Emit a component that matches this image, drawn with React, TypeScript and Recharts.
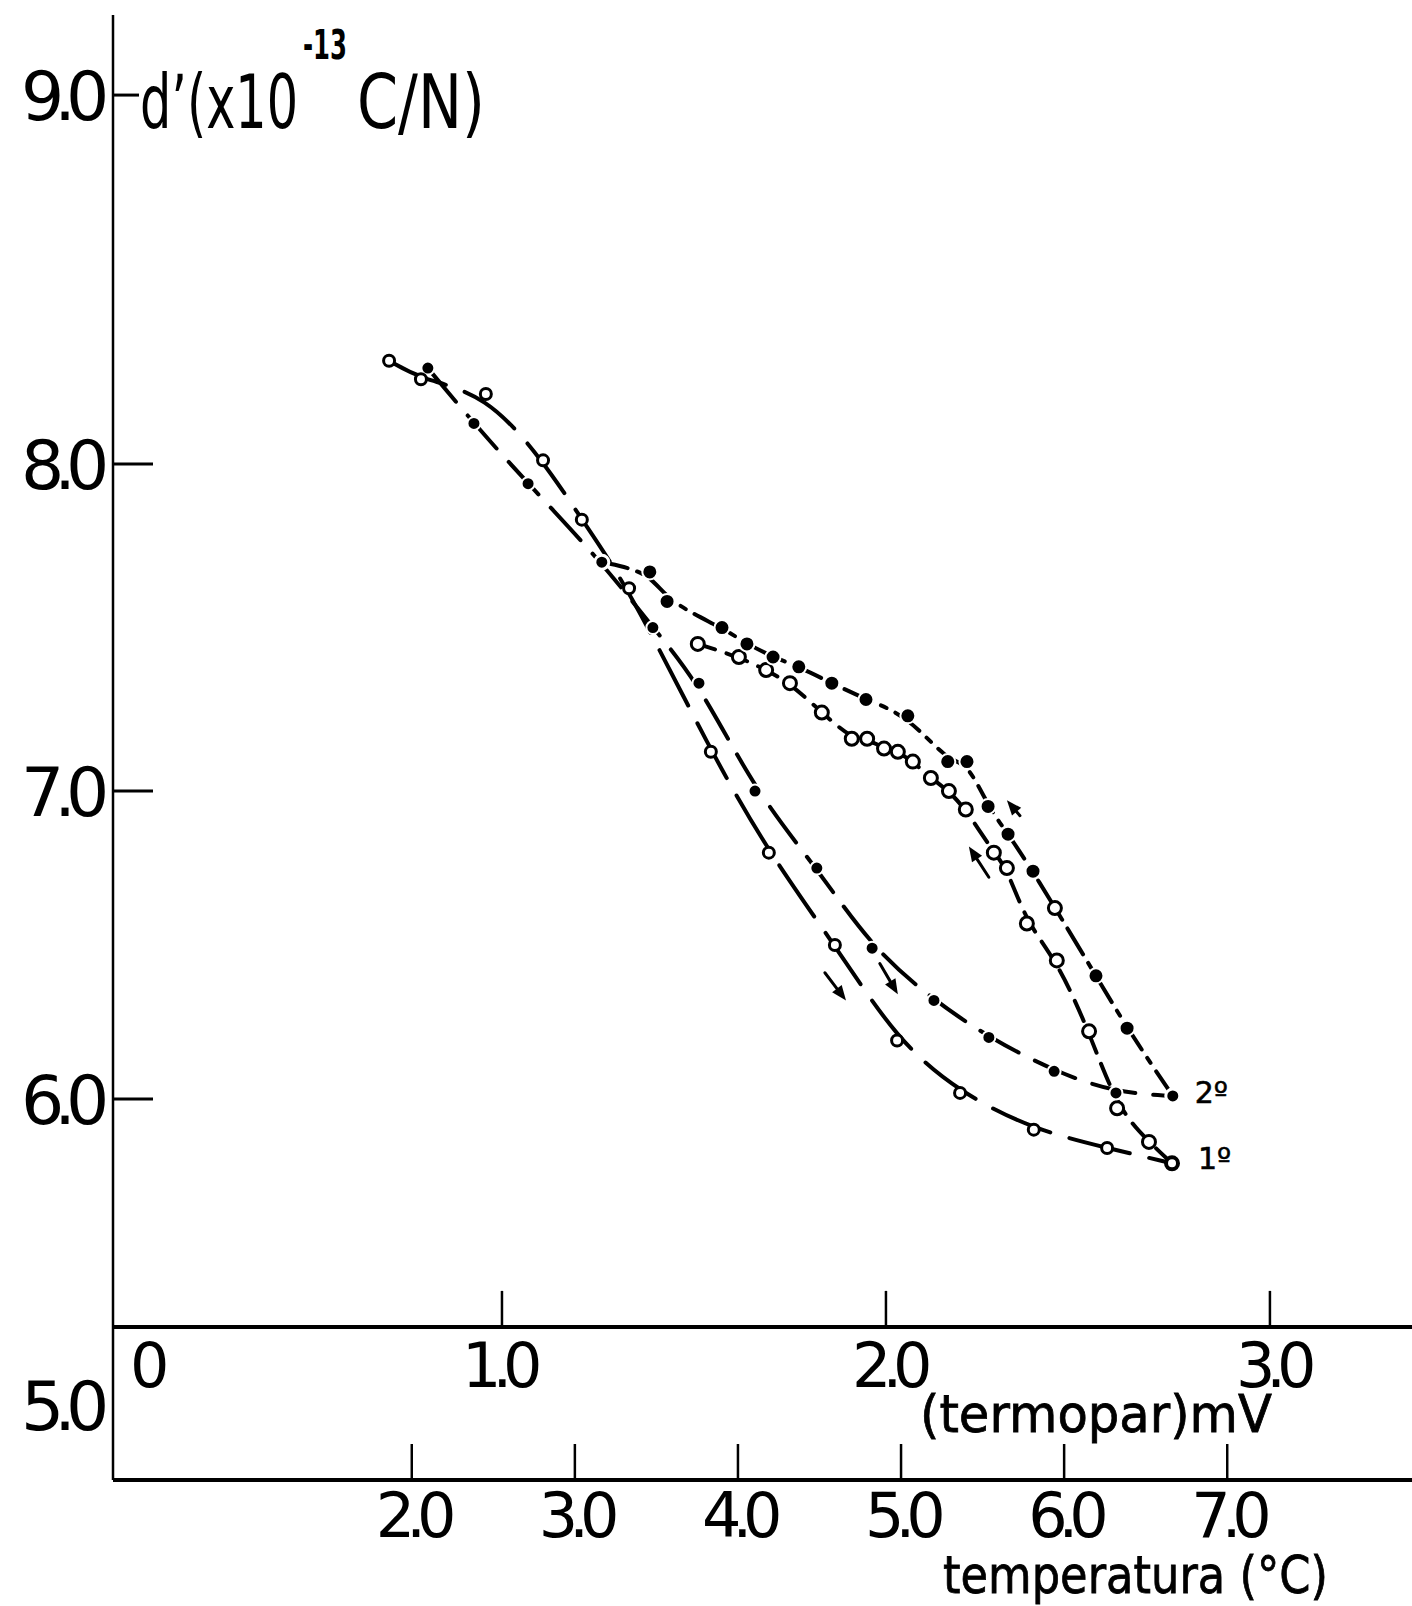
import { ComposedChart, Line, XAxis, YAxis, ReferenceLine, LabelList } from "recharts";

const FONT = "'DejaVu Sans', 'Liberation Sans', sans-serif";

// d' axis (x10^-13 C/N). The hand-drawn scale is uneven, so the gap between
// successive ticks is kept and the values are mapped piecewise onto it.
const Y_TICKS = [5, 6, 7, 8, 9];
const Y_TICK_GAPS = [306, 308, 327, 369];
const Y_RANGE = [4.755, 9.217];

// termopar (mV) axis, drawn inside the plot at d' = MV_AXIS_AT
const MV_TICKS = [0, 1, 2, 3];
const MV_RANGE = [-0.013, 3.37];
const MV_AXIS_AT = 5.255;
const MV_TICK_TOP = 5.373;

// temperatura (°C) axis
const T_TICKS = [2, 3, 4, 5, 6, 7];
const T_RANGE = [0.168, 8.133];

// 1º run, heating (open circles, lower branch)
const HEAT1_MV = [0.706, 0.789, 0.958, 1.107, 1.208, 1.331, 1.544, 1.695, 1.867, 2.029, 2.193, 2.385, 2.576, 2.745];
const HEAT1_D = [8.28, 8.23, 8.19, 8.01, 7.83, 7.62, 7.12, 6.8, 6.5, 6.19, 6.02, 5.9, 5.84, 5.79];

// 1º run, cooling (open circles, upper branch)
const COOL1_MV = [2.745, 2.685, 2.602, 2.529, 2.445, 2.367, 2.315, 2.281, 2.208, 2.164, 2.117, 2.07, 2.031, 1.995, 1.951, 1.911, 1.833, 1.75, 1.688, 1.617, 1.51];
const COOL1_D = [5.79, 5.86, 5.97, 6.22, 6.45, 6.57, 6.75, 6.8, 6.94, 7.0, 7.04, 7.09, 7.12, 7.13, 7.16, 7.16, 7.24, 7.33, 7.37, 7.41, 7.45];

// 2º run, heating (filled circles, lower branch)
const HEAT2_MV = [0.807, 0.927, 1.068, 1.26, 1.393, 1.513, 1.659, 1.82, 1.964, 2.125, 2.268, 2.438, 2.599, 2.747];
const HEAT2_D = [8.26, 8.11, 7.94, 7.7, 7.5, 7.33, 7.0, 6.75, 6.49, 6.32, 6.2, 6.09, 6.02, 6.01];

// 2º run, cooling (filled circles, upper branch)
const COOL2_MV = [2.747, 2.628, 2.547, 2.383, 2.318, 2.266, 2.211, 2.161, 2.057, 1.948, 1.859, 1.773, 1.706, 1.638, 1.573, 1.43, 1.385, 1.26];
const COOL2_D = [6.01, 6.23, 6.4, 6.74, 6.86, 6.95, 7.09, 7.09, 7.23, 7.28, 7.33, 7.38, 7.41, 7.45, 7.5, 7.58, 7.67, 7.7];

// an open circle that sits on the 2º cooling curve
const STRAY1_MV = [2.44];
const STRAY1_D = [6.62];

// direction arrows [mV, d'] -> [mV, d']
const ARROWS = [
  { from: [1.841, 6.41], to: [1.896, 6.32] },
  { from: [1.984, 6.44], to: [2.031, 6.34] },
  { from: [2.268, 6.72], to: [2.216, 6.82] },
  { from: [2.349, 6.92], to: [2.315, 6.97] },
];

function toDisplay(v: number) {
  let acc = 0;
  for (let i = 0; i < Y_TICK_GAPS.length; i++) {
    const lo = Y_TICKS[i];
    const hi = Y_TICKS[i + 1];
    if (i === 0 && v < lo) return (v - lo) * Y_TICK_GAPS[0];
    if (v <= hi || i === Y_TICK_GAPS.length - 1) return acc + (v - lo) * Y_TICK_GAPS[i];
    acc += Y_TICK_GAPS[i];
  }
  return acc;
}

const rows = (mv: number[], d: number[]) => mv.map((m, i) => ({ m, d: d[i], y: toDisplay(d[i]) }));

const heat1 = rows(HEAT1_MV, HEAT1_D);
const cool1 = rows(COOL1_MV, COOL1_D);
const heat2 = rows(HEAT2_MV, HEAT2_D);
const cool2 = rows(COOL2_MV, COOL2_D);
const stray1 = rows(STRAY1_MV, STRAY1_D);
const tempRows = T_TICKS.map((t) => ({ t }));

const filledDot = (r: number) => (p: any) =>
  p.cx == null ? <g key={`f${p.index}`} /> : (
    <circle key={`f${p.index}`} cx={p.cx} cy={p.cy} r={r} fill="#000" stroke="#fff" strokeWidth={2} />
  );

const openDot = (r: number) => (p: any) =>
  p.cx == null ? <g key={`o${p.index}`} /> : (
    <circle key={`o${p.index}`} cx={p.cx} cy={p.cy} r={r} fill="#fff" stroke="#000" strokeWidth={3} />
  );

const endLabel = (text: string, last: number, dx: number, dy: number) => (p: any) =>
  p.index !== last ? null : (
    <text key="end" x={Number(p.x) + dx} y={Number(p.y) + dy} fontSize={30} fontFamily={FONT} fill="#000" stroke="#000" strokeWidth={0.6}>
      {text}
    </text>
  );

function YTick(props: any) {
  const { x, y, payload } = props;
  const v = Y_TICKS.find((t) => Math.abs(toDisplay(t) - payload.value) < 0.01);
  if (v == null) return null;
  const top = v === Y_TICKS[Y_TICKS.length - 1];
  return (
    <g>
      {v > Y_TICKS[0] && <line x1={x} y1={y} x2={x + (top ? 26 : 40)} y2={y} stroke="#000" strokeWidth={3} />}
      <text x={x - 92} y={y + 25} fontSize={68} fontFamily={FONT} fill="#000" letterSpacing={-10}>
        {v.toFixed(1)}
      </text>
      {top && (
        <g fill="#000" fontFamily={FONT}>
          <text x={x + 27} y={y + 33} fontSize={75} textLength={158} lengthAdjust="spacingAndGlyphs">d’(x10</text>
          <text x={x + 190} y={y - 36} fontSize={40} fontWeight="bold" textLength={44} lengthAdjust="spacingAndGlyphs">-13</text>
          <text x={x + 244} y={y + 33} fontSize={75} textLength={128} lengthAdjust="spacingAndGlyphs">C/N)</text>
        </g>
      )}
    </g>
  );
}

function TempTick(props: any) {
  const { x, y, payload } = props;
  return (
    <g>
      <line x1={x} y1={y} x2={x} y2={y - 36} stroke="#000" strokeWidth={2.5} />
      <text x={x - 36} y={y + 57} fontSize={62} fontFamily={FONT} fill="#000" letterSpacing={-9}>
        {Number(payload.value).toFixed(1)}
      </text>
    </g>
  );
}

const tempTitle = (p: any) => {
  const vb = p.viewBox || {};
  return (
    <text x={vb.x + 830} y={vb.y + 113} fontSize={52} fontFamily={FONT} fill="#000" stroke="#000" strokeWidth={0.8} textLength={385} lengthAdjust="spacingAndGlyphs">
      temperatura (°C)
    </text>
  );
};

const mvAxisShape = (p: any) => (
  <g>
    <line x1={p.x1} y1={p.y1} x2={p.x2} y2={p.y2} stroke="#000" strokeWidth={4} />
    <text x={Math.min(p.x1, p.x2) + 807} y={p.y1 + 105} fontSize={52} fontFamily={FONT} fill="#000" stroke="#000" strokeWidth={0.8} textLength={352} lengthAdjust="spacingAndGlyphs">
      (termopar)mV
    </text>
  </g>
);

const mvTickShape = (v: number) => (p: any) => {
  const base = Math.max(p.y1, p.y2);
  const label = v === 0 ? "0" : v.toFixed(1);
  const tx = v === 0 ? p.x1 + 12 : p.x1 - (v === 1 ? 40 : 34);
  return (
    <g>
      {v !== 0 && <line x1={p.x1} y1={p.y1} x2={p.x2} y2={p.y2} stroke="#000" strokeWidth={2.5} />}
      <text x={tx} y={base + 60} fontSize={62} fontFamily={FONT} fill="#000" letterSpacing={-9}>
        {label}
      </text>
    </g>
  );
};

const arrowShape = (p: any) => {
  const ang = Math.atan2(p.y2 - p.y1, p.x2 - p.x1);
  const len = 15;
  const half = 6;
  const bx = p.x2 - len * Math.cos(ang);
  const by = p.y2 - len * Math.sin(ang);
  const nx = -Math.sin(ang) * half;
  const ny = Math.cos(ang) * half;
  return (
    <g>
      <line x1={p.x1} y1={p.y1} x2={bx} y2={by} stroke="#000" strokeWidth={3} strokeLinecap="round" />
      <polygon points={`${p.x2},${p.y2} ${bx + nx},${by + ny} ${bx - nx},${by - ny}`} fill="#000" />
    </g>
  );
};

export default function App() {
  return (
    <div>
      <style>{"body{margin:0;background:#fff}"}</style>
      <ComposedChart width={1412} height={1606} data={tempRows} margin={{ top: 15, right: 0, bottom: 0, left: 0 }}>
        <XAxis
          xAxisId="t"
          dataKey="t"
          type="number"
          domain={T_RANGE}
          ticks={T_TICKS}
          allowDataOverflow
          interval={0}
          height={126}
          tick={TempTick}
          tickLine={false}
          tickSize={0}
          tickMargin={0}
          axisLine={{ stroke: "#000", strokeWidth: 4 }}
          label={tempTitle}
        />
        <XAxis xAxisId="mv" dataKey="m" type="number" domain={MV_RANGE} allowDataOverflow hide height={0} />
        <YAxis
          dataKey="y"
          type="number"
          domain={[toDisplay(Y_RANGE[0]), toDisplay(Y_RANGE[1])]}
          ticks={Y_TICKS.map(toDisplay)}
          allowDataOverflow
          interval={0}
          width={113}
          tick={YTick}
          tickLine={false}
          tickSize={0}
          tickMargin={0}
          axisLine={{ stroke: "#000", strokeWidth: 2.5 }}
        />

        <ReferenceLine xAxisId="mv" y={toDisplay(MV_AXIS_AT)} shape={mvAxisShape} />
        {MV_TICKS.map((v) => (
          <ReferenceLine
            key={`mv${v}`}
            xAxisId="mv"
            segment={[{ x: v, y: toDisplay(MV_AXIS_AT) }, { x: v, y: toDisplay(MV_TICK_TOP) }]}
            shape={mvTickShape(v)}
          />
        ))}
        {ARROWS.map((a, i) => (
          <ReferenceLine
            key={`arrow${i}`}
            xAxisId="mv"
            segment={[{ x: a.from[0], y: toDisplay(a.from[1]) }, { x: a.to[0], y: toDisplay(a.to[1]) }]}
            shape={arrowShape}
          />
        ))}

        <Line xAxisId="mv" data={cool1} dataKey="y" name="1º resfriamento" type="basis" stroke="#000" strokeWidth={4} strokeDasharray="22 12" strokeLinecap="round" dot={openDot(6.5)} activeDot={false} isAnimationActive={false} />
        <Line xAxisId="mv" data={cool2} dataKey="y" name="2º resfriamento" type="basis" stroke="#000" strokeWidth={4} strokeDasharray="30 10 6 10" strokeLinecap="round" dot={filledDot(7.5)} activeDot={false} isAnimationActive={false} />
        <Line xAxisId="mv" data={heat2} dataKey="y" name="2º aquecimento" type="basis" stroke="#000" strokeWidth={4} strokeDasharray="44 18" strokeLinecap="round" dot={filledDot(6.5)} activeDot={false} isAnimationActive={false}>
          <LabelList dataKey="y" content={endLabel("2º", heat2.length - 1, 22, 7)} />
        </Line>
        <Line xAxisId="mv" data={heat1} dataKey="y" name="1º aquecimento" type="basis" stroke="#000" strokeWidth={4} strokeDasharray="62 20" strokeLinecap="round" dot={openDot(5.5)} activeDot={false} isAnimationActive={false}>
          <LabelList dataKey="y" content={endLabel("1º", heat1.length - 1, 26, 6)} />
        </Line>
        <Line xAxisId="mv" data={stray1} dataKey="y" name="1º" stroke="none" dot={openDot(6.5)} activeDot={false} isAnimationActive={false} />
      </ComposedChart>
    </div>
  );
}
